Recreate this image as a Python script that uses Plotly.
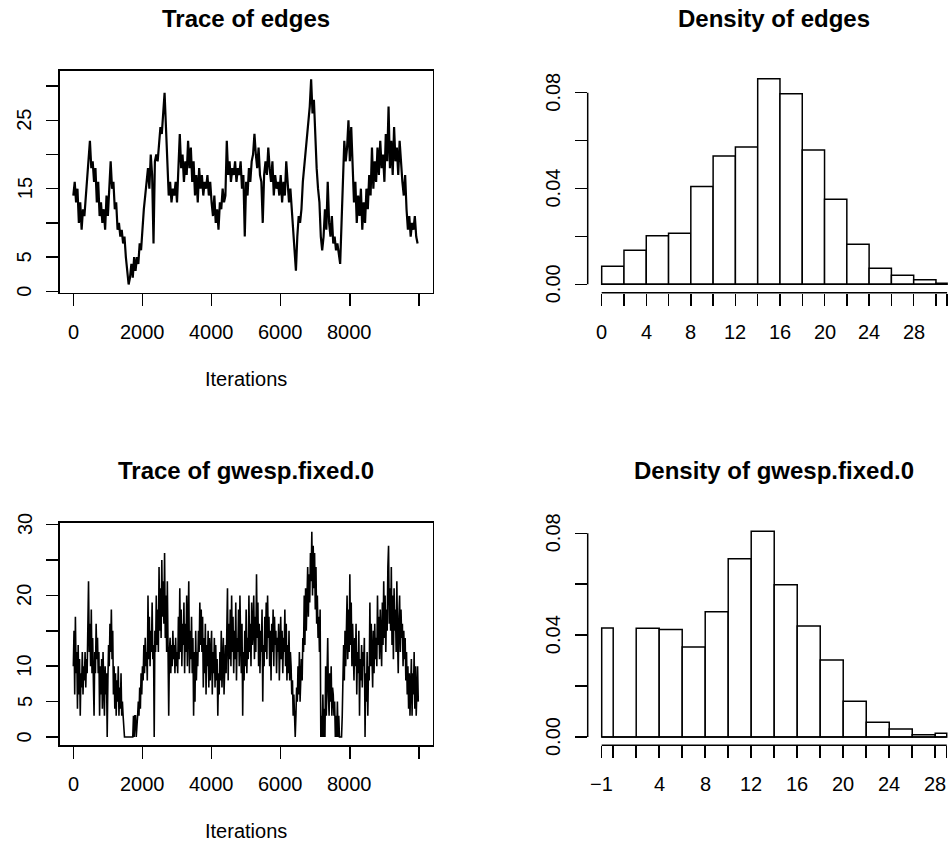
import plotly.graph_objects as go

# ---------------- data ----------------
edges_iter = list(range(0, 10000, 40))
gwesp_iter = list(range(0, 10000, 20))

edges_trace = [
    14, 16, 13, 15, 10, 13, 9, 12, 11, 14,
    17, 19, 22, 18, 19, 16, 18, 13, 16, 11,
    13, 10, 12, 9, 14, 11, 16, 19, 15, 16,
    12, 13, 9, 10, 8, 9, 7, 8, 5, 3,
    1, 2, 4, 2, 5, 3, 5, 4, 7, 6,
    10, 12, 14, 16, 18, 15, 20, 17, 7, 19,
    20, 19, 22, 24, 23, 26, 29, 24, 20, 14,
    16, 13, 15, 14, 16, 13, 18, 23, 18, 20,
    16, 19, 17, 22, 18, 21, 16, 19, 14, 17,
    13, 18, 15, 17, 14, 16, 15, 17, 14, 16,
    13, 11, 14, 10, 12, 9, 13, 12, 15, 13,
    14, 22, 17, 19, 16, 18, 17, 19, 16, 18,
    17, 19, 15, 17, 8, 16, 14, 18, 16, 19,
    20, 23, 20, 18, 21, 17, 16, 10, 17, 19,
    17, 21, 18, 16, 19, 14, 17, 15, 16, 14,
    17, 13, 16, 14, 19, 15, 13, 15, 12, 9,
    5, 3, 8, 11, 10, 12, 16, 18, 21, 22,
    25, 27, 31, 26, 28, 22, 18, 15, 13, 8,
    6, 8, 12, 9, 16, 10, 8, 11, 7, 8,
    6, 7, 5, 4, 10, 18, 22, 19, 21, 25,
    19, 24, 17, 13, 16, 10, 14, 11, 15, 9,
    13, 10, 15, 12, 17, 14, 21, 15, 19, 16,
    21, 17, 22, 18, 20, 16, 23, 19, 27, 18,
    22, 17, 24, 19, 21, 17, 22, 18, 16, 14,
    17, 12, 9, 11, 8, 10, 9, 11, 8, 7,
]

gwesp_trace = [
    10, 15, 6, 17, 9, 12, 4, 13, 6, 11,
    3, 9, 7, 12, 6, 10, 8, 12, 7, 11,
    9, 14, 22, 12, 16, 10, 18, 9, 14, 8,
    3, 12, 9, 16, 11, 14, 9, 12, 3, 10,
    6, 11, 4, 12, 8, 3, 10, 6, 9, 0,
    8, 13, 10, 16, 12, 18, 11, 15, 6, 10,
    4, 9, 3, 8, 5, 10, 3, 7, 4, 9,
    3, 5, 3, 0, 0, 0, 0, 0, 0, 0,
    0, 0, 0, 0, 0, 0, 0, 3, 0, 3,
    3, 0, 3, 3, 5, 3, 7, 4, 9, 6,
    10, 8, 13, 9, 14, 10, 12, 8, 20, 11,
    17, 10, 15, 12, 19, 11, 13, 0, 15, 12,
    20, 13, 18, 12, 24, 15, 21, 14, 25, 17,
    22, 16, 26, 14, 20, 12, 22, 15, 3, 12,
    14, 9, 13, 10, 15, 11, 13, 9, 14, 10,
    12, 9, 17, 11, 21, 12, 18, 10, 16, 13,
    19, 9, 16, 12, 20, 10, 14, 22, 9, 15,
    11, 17, 9, 14, 3, 12, 5, 15, 8, 12,
    10, 15, 12, 19, 13, 18, 12, 17, 7, 14,
    9, 16, 6, 13, 10, 15, 7, 14, 8, 12,
    15, 6, 12, 9, 14, 7, 13, 8, 11, 3,
    9, 6, 12, 8, 15, 7, 11, 14, 6, 10,
    13, 9, 15, 21, 8, 16, 11, 18, 10, 20,
    12, 17, 9, 15, 11, 19, 8, 14, 12, 18,
    10, 20, 14, 9, 16, 3, 12, 8, 15, 10,
    18, 9, 14, 11, 20, 12, 16, 10, 19, 13,
    15, 20, 11, 17, 12, 23, 14, 19, 10, 16,
    9, 15, 12, 18, 5, 13, 10, 17, 12, 19,
    11, 20, 14, 17, 10, 15, 8, 16, 12, 18,
    10, 17, 13, 15, 9, 14, 12, 16, 8, 13,
    17, 11, 15, 9, 14, 12, 18, 10, 16, 8,
    13, 9, 15, 8, 12, 10, 6, 8, 3, 6,
    3, 0, 3, 7, 5, 10, 6, 12, 5, 9,
    11, 8, 14, 12, 20, 13, 21, 15, 18, 24,
    17, 23, 19, 26, 22, 29, 20, 27, 21, 26,
    18, 24, 16, 20, 14, 17, 12, 18, 0, 3,
    0, 6, 0, 4, 0, 10, 3, 8, 14, 6,
    3, 9, 5, 10, 3, 7, 6, 3, 5, 0,
    3, 0, 5, 0, 3, 0, 0, 0, 0, 3,
    9, 13, 8, 15, 10, 14, 20, 11, 18, 12,
    23, 13, 19, 10, 16, 12, 8, 14, 10, 16,
    6, 12, 9, 15, 3, 11, 8, 13, 7, 12,
    10, 14, 0, 9, 5, 12, 3, 10, 8, 19,
    10, 16, 12, 7, 15, 9, 16, 11, 14, 10,
    20, 13, 17, 11, 18, 14, 10, 19, 13, 22,
    14, 20, 12, 18, 15, 24, 27, 16, 21, 15,
    24, 13, 20, 11, 21, 15, 18, 12, 22, 14,
    9, 17, 20, 12, 18, 14, 16, 10, 15, 11,
    14, 8, 12, 6, 10, 4, 9, 3, 8, 11,
    3, 9, 6, 12, 4, 10, 3, 8, 10, 5,
]

edges_breaks = [0, 2, 4, 6, 8, 10, 12, 14, 16, 18, 20, 22, 24, 26, 28, 30, 31]
edges_density = [0.0075, 0.0142, 0.0203, 0.0213, 0.0408, 0.0536, 0.0573, 0.0858,
                 0.0796, 0.0561, 0.0355, 0.0167, 0.0067, 0.0038, 0.0019, 0.0004]

gwesp_breaks = [-1, 0, 2, 4, 6, 8, 10, 12, 14, 16, 18, 20, 22, 24, 26, 28, 29]
gwesp_density = [0.0428, 0.0, 0.0427, 0.0422, 0.0353, 0.0492, 0.0700, 0.0808,
                 0.0598, 0.0436, 0.0302, 0.0140, 0.0058, 0.0031, 0.0009, 0.0015]

trace_xticks = [0, 2000, 4000, 6000, 8000, 10000]
trace_xlabels = ["0", "2000", "4000", "6000", "8000", ""]
edges_yticks = [0, 5, 10, 15, 20, 25, 30]
edges_ylabels = ["0", "5", "", "15", "", "25", ""]
gwesp_yticks = [0, 5, 10, 15, 20, 25, 30]
gwesp_ylabels = ["0", "5", "10", "", "20", "", "30"]
dens_yticks = [0, 0.02, 0.04, 0.06, 0.08]
dens_ylabels = ["0.00", "", "0.04", "", "0.08"]
edges_hist_labels = ["0", "", "4", "", "8", "", "12", "", "16", "", "20", "", "24", "", "28", "", ""]
gwesp_hist_labels = ["\u22121", "", "", "4", "", "8", "", "12", "", "16", "", "20", "", "24", "", "28", ""]

titles = ["Trace of edges", "Density of edges", "Trace of gwesp.fixed.0", "Density of gwesp.fixed.0"]
xlab = "Iterations"

# ---------------- layout geometry (pixels) ----------------
W, H = 948, 846
FONT = "Liberation Sans, Arial, Helvetica, sans-serif"
LW = 1.5
ROW = 452.6  # vertical offset between the two rows of panels

def px_x(p):
    return p / W

def px_y(p):
    return 1 - p / H

left_dom = [px_x(59.5), px_x(432.8)]
right_dom = [px_x(587.7), 1.0]
top_dom = [px_y(292.7), px_y(70.7)]
bot_dom = [px_y(745.3), px_y(522.7)]

fig = go.Figure()

fig.add_trace(go.Scatter(x=edges_iter, y=edges_trace, mode="lines",
                         line=dict(color="black", width=2.2), xaxis="x", yaxis="y",
                         showlegend=False, hoverinfo="skip"))
fig.add_trace(go.Scatter(x=gwesp_iter, y=gwesp_trace, mode="lines",
                         line=dict(color="black", width=1.6), xaxis="x3", yaxis="y3",
                         showlegend=False, hoverinfo="skip"))

def hist_bar(breaks, dens, xa, ya):
    centers = [(breaks[i] + breaks[i + 1]) / 2 for i in range(len(dens))]
    widths = [breaks[i + 1] - breaks[i] for i in range(len(dens))]
    return go.Bar(x=centers, y=dens, width=widths, xaxis=xa, yaxis=ya,
                  marker=dict(color="white", line=dict(color="black", width=LW)),
                  showlegend=False, hoverinfo="skip")

fig.add_trace(hist_bar(edges_breaks, edges_density, "x2", "y2"))
fig.add_trace(hist_bar(gwesp_breaks, gwesp_density, "x4", "y4"))

base_axis = dict(showgrid=False, zeroline=False, showticklabels=False,
                 ticks="outside", ticklen=12, tickwidth=LW, tickcolor="black",
                 linecolor="black", linewidth=LW)

box = dict(showline=True, mirror=True)

fig.update_layout(
    width=W, height=H,
    margin=dict(l=0, r=0, t=0, b=0),
    paper_bgcolor="white", plot_bgcolor="white",
    showlegend=False,
    barmode="overlay",
    xaxis=dict(**base_axis, **box, domain=left_dom, range=[-400, 10400],
               tickmode="array", tickvals=trace_xticks, anchor="y"),
    yaxis=dict(**base_axis, **box, domain=top_dom, range=[-0.2, 32.24],
               tickmode="array", tickvals=edges_yticks, anchor="x"),
    xaxis3=dict(**base_axis, **box, domain=left_dom, range=[-400, 10400],
                tickmode="array", tickvals=trace_xticks, anchor="y3"),
    yaxis3=dict(**base_axis, **box, domain=bot_dom, range=[-1.17, 30.27],
                tickmode="array", tickvals=gwesp_yticks, anchor="x3"),
    xaxis2=dict(**base_axis, showline=False, domain=right_dom, range=[-1.256, 31.08],
                tickmode="array", tickvals=edges_breaks, anchor="y2"),
    yaxis2=dict(**base_axis, showline=False, domain=top_dom, range=[-0.003507, 0.08919],
                tickmode="array", tickvals=dens_yticks, anchor="x2"),
    xaxis4=dict(**base_axis, showline=False, domain=right_dom, range=[-2.217, 29.11],
                tickmode="array", tickvals=gwesp_breaks, anchor="y4"),
    yaxis4=dict(**base_axis, showline=False, domain=bot_dom, range=[-0.00326, 0.08416],
                tickmode="array", tickvals=dens_yticks, anchor="x4"),
)

shapes = []
for xa, ya, brk, ybot in [("x2", "y2", edges_breaks, 292.7), ("x4", "y4", gwesp_breaks, 745.3)]:
    shapes.append(dict(type="line", xref=xa, yref="paper", x0=brk[0], x1=brk[-1],
                       y0=px_y(ybot), y1=px_y(ybot), line=dict(color="black", width=LW)))
    shapes.append(dict(type="line", xref="paper", yref=ya, x0=px_x(587.7), x1=px_x(587.7),
                       y0=dens_yticks[0], y1=dens_yticks[-1], line=dict(color="black", width=LW)))
    shapes.append(dict(type="line", xref=xa, yref=ya, x0=brk[0], x1=brk[-1], y0=0, y1=0,
                       line=dict(color="black", width=LW)))
fig.update_layout(shapes=shapes)

ann = []
tick_font = dict(family=FONT, size=20, color="black")

def xlabels(xref, vals, labels, ycen):
    for v, t in zip(vals, labels):
        if t:
            ann.append(dict(xref=xref, yref="paper", x=v, y=px_y(ycen), text=t,
                            showarrow=False, xanchor="center", yanchor="middle", font=tick_font))

def ylabels(yref, vals, labels, xcen):
    for v, t in zip(vals, labels):
        if t:
            ann.append(dict(xref="paper", yref=yref, x=px_x(xcen), y=v, text=t, textangle=-90,
                            showarrow=False, xanchor="center", yanchor="middle", font=tick_font))

xlabels("x", trace_xticks, trace_xlabels, 331.5)
xlabels("x3", trace_xticks, trace_xlabels, 331.5 + ROW)
xlabels("x2", edges_breaks, edges_hist_labels, 331.5)
xlabels("x4", gwesp_breaks, gwesp_hist_labels, 331.5 + ROW)
ylabels("y", edges_yticks, edges_ylabels, 24.5)
ylabels("y3", gwesp_yticks, gwesp_ylabels, 24.5)
ylabels("y2", dens_yticks, dens_ylabels, 553)
ylabels("y4", dens_yticks, dens_ylabels, 553)

title_font = dict(family=FONT, size=24, color="black")
for t, xc, yc in [(titles[0], 246.1, 18), (titles[1], 774.4, 18),
                  (titles[2], 246.1, 18 + ROW), (titles[3], 774.4, 18 + ROW)]:
    ann.append(dict(xref="paper", yref="paper", x=px_x(xc), y=px_y(yc), text="<b>%s</b>" % t,
                    showarrow=False, xanchor="center", yanchor="middle", font=title_font))

for yc in [378.6, 378.6 + ROW]:
    ann.append(dict(xref="paper", yref="paper", x=px_x(246.1), y=px_y(yc), text=xlab,
                    showarrow=False, xanchor="center", yanchor="middle", font=tick_font))

fig.update_layout(annotations=ann)

fig.write_html("out.html",
               config={"displayModeBar": False, "staticPlot": True},
               post_script="document.body.style.margin='0px';document.body.style.overflow='hidden';")
